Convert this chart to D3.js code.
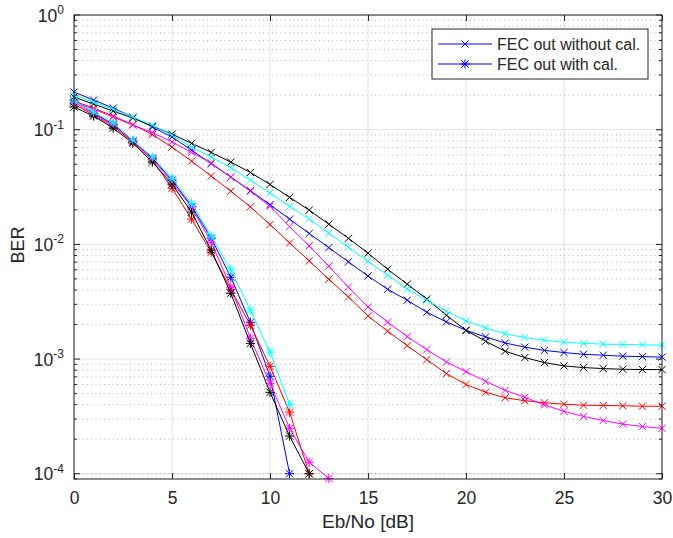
<!DOCTYPE html>
<html>
<head>
<meta charset="utf-8">
<script src="https://cdn.jsdelivr.net/npm/d3@7"></script>
<style>
  body { margin: 0; background: #fff; }
  text { font-family: "Liberation Sans", Arial, Helvetica, sans-serif; fill: #262626; }
</style>
</head>
<body>
<svg id="chart" width="673" height="538"></svg>
<script>
// Eb/No grid (dB)
const ebno = [0,1,2,3,4,5,6,7,8,9,10,11,12,13,14,15,16,17,18,19,20,21,22,23,24,25,26,27,28,29,30];

// BER without calibration ('x' markers)
const blueNoCal    = [0.2128,0.1813,0.1544,0.1288,0.1054,0.0862,0.0664,0.0506,0.0386,0.0294,0.0222,0.0166,0.01245,0.00936,0.00704,0.00530,0.00406,0.00326,0.00256,0.00211,0.00178,0.00156,0.00138,0.00127,0.00119,0.00114,0.00110,0.00108,0.00106,0.00105,0.00104];
const redNoCal     = [0.1777,0.1543,0.1314,0.1108,0.0906,0.0705,0.0532,0.0394,0.0291,0.02125,0.0149,0.0103,0.00718,0.00497,0.00348,0.00238,0.00175,0.00131,0.000988,0.000747,0.000600,0.000514,0.000460,0.000433,0.000416,0.000404,0.000396,0.000394,0.000391,0.000388,0.000388];
const magentaNoCal = [0.1741,0.1513,0.1288,0.1097,0.0943,0.0784,0.0634,0.0511,0.0386,0.0291,0.0215,0.01428,0.00972,0.00645,0.00424,0.00285,0.00210,0.00157,0.00121,0.000943,0.000778,0.000640,0.000534,0.000464,0.000398,0.000350,0.000316,0.000291,0.000271,0.000258,0.000249];
const blackNoCal   = [0.1925,0.1673,0.1453,0.1263,0.1075,0.0915,0.0760,0.0634,0.0522,0.0424,0.0333,0.0257,0.0199,0.0150,0.0113,0.00838,0.00608,0.00450,0.00334,0.00241,0.00178,0.00143,0.00117,0.00103,0.000932,0.000871,0.000843,0.000826,0.000815,0.000810,0.000810];
const cyanNoCal    = [0.2003,0.1741,0.1513,0.1288,0.1097,0.0897,0.0705,0.0577,0.0467,0.0363,0.0280,0.0215,0.0166,0.01252,0.00945,0.00713,0.00539,0.00409,0.00325,0.00261,0.00215,0.00187,0.00166,0.00154,0.00146,0.00140,0.00137,0.00135,0.00134,0.00133,0.00132];

// BER with calibration ('*' markers); curves end where no errors were counted
const blueCal    = [0.1813,0.1396,0.1119,0.0795,0.0565,0.0363,0.0215,0.01133,0.00517,0.00209,0.000708,0.0001];
const redCal     = [0.1673,0.1341,0.1075,0.0779,0.0543,0.0309,0.0166,0.00855,0.00406,0.00197,0.000865,0.000345,0.0001];
const magentaCal = [0.1741,0.1368,0.1097,0.0795,0.0554,0.0349,0.0211,0.01045,0.00423,0.00152,0.000615,0.000249,0.000126,0.000091];
const blackCal   = [0.1575,0.1314,0.1032,0.0764,0.0522,0.0335,0.0191,0.00890,0.00375,0.00137,0.000513,0.000213,0.0001];
const cyanCal    = [0.1777,0.1424,0.1142,0.0811,0.0577,0.0376,0.0227,0.01179,0.00601,0.00267,0.00115,0.000403];

const xTicks = [0,5,10,15,20,25,30];
const yDecades = [0,-1,-2,-3,-4];
const legendLabels = ["FEC out without cal.", "FEC out with cal."];

const series = [
  {values: blueNoCal,    color: "#0000ff", marker: "x"},
  {values: blueCal,      color: "#0000ff", marker: "*"},
  {values: redNoCal,     color: "#ff0000", marker: "x"},
  {values: redCal,       color: "#ff0000", marker: "*"},
  {values: magentaNoCal, color: "#ff00ff", marker: "x"},
  {values: magentaCal,   color: "#ff00ff", marker: "*"},
  {values: blackNoCal,   color: "#000000", marker: "x"},
  {values: blackCal,     color: "#000000", marker: "*"},
  {values: cyanNoCal,    color: "#00ffff", marker: "x"},
  {values: cyanCal,      color: "#00ffff", marker: "*"}
];

const plotL = 74, plotR = 662, plotT = 15, plotB = 479;
const svg = d3.select("#chart");
svg.append("rect").attr("width", 673).attr("height", 538).attr("fill", "#fff");

const x = d3.scaleLinear().domain([0, 30]).range([plotL, plotR]);
const y = d3.scaleLog().domain([9e-5, 1]).range([plotB, plotT]);

// minor decade subdivisions within the visible range
const minorVals = [];
for (let e = -5; e < 0; e++) {
  for (let k = 2; k <= 9; k++) {
    const v = k * Math.pow(10, e);
    if (v >= 9e-5 && v < 1) minorVals.push(v);
  }
}

const grid = svg.append("g");
// minor grid (dotted)
grid.selectAll("line.minor").data(minorVals.concat([1e-4])).join("line")
  .attr("x1", plotL).attr("x2", plotR)
  .attr("y1", d => y(d)).attr("y2", d => y(d))
  .attr("stroke", "#b5b5b5").attr("stroke-width", 1)
  .attr("stroke-dasharray", "1,3.3");
// major grid
grid.selectAll("line.hy").data(yDecades.map(e => Math.pow(10, e))).join("line")
  .attr("x1", plotL).attr("x2", plotR)
  .attr("y1", d => y(d)).attr("y2", d => y(d))
  .attr("stroke", "#262626").attr("stroke-opacity", 0.13).attr("stroke-width", 1);
grid.selectAll("line.vx").data(xTicks).join("line")
  .attr("class", "vx")
  .attr("x1", d => x(d)).attr("x2", d => x(d))
  .attr("y1", plotT).attr("y2", plotB)
  .attr("stroke", "#262626").attr("stroke-opacity", 0.13).attr("stroke-width", 1);

// clip region for the lines
svg.append("clipPath").attr("id", "plotclip").append("rect")
  .attr("x", plotL).attr("y", plotT).attr("width", plotR - plotL).attr("height", plotB - plotT);

const line = d3.line().x((d, i) => x(ebno[i])).y(d => y(d));

function markerPath(kind) {
  const s = 3.6;
  let p = `M${-s},${-s}L${s},${s}M${-s},${s}L${s},${-s}`;
  if (kind === "*") {
    const t = 4.6;
    p += `M0,${-t}L0,${t}M${-t},0L${t},0`;
  }
  return p;
}

const plot = svg.append("g");
series.forEach(s => {
  const g = plot.append("g");
  g.append("path")
    .attr("d", line(s.values))
    .attr("fill", "none")
    .attr("stroke", s.color)
    .attr("stroke-width", 1)
    .attr("clip-path", "url(#plotclip)");
  g.selectAll("path.m").data(s.values).join("path")
    .attr("class", "m")
    .attr("transform", (d, i) => `translate(${x(ebno[i])},${y(d)})`)
    .attr("d", markerPath(s.marker))
    .attr("fill", "none")
    .attr("stroke", s.color)
    .attr("stroke-width", 1);
});

// axes box
const axisColor = "#262626";
svg.append("rect")
  .attr("x", plotL).attr("y", plotT).attr("width", plotR - plotL).attr("height", plotB - plotT)
  .attr("fill", "none").attr("stroke", axisColor).attr("stroke-width", 1);

// x axis ticks (bottom with labels, top without)
const xAxis = d3.axisBottom(x).tickValues(xTicks).tickSize(-6).tickPadding(13).tickFormat(d3.format("d"));
const gx = svg.append("g").attr("transform", `translate(0,${plotB})`).call(xAxis);
gx.select(".domain").remove();
gx.selectAll("line").attr("stroke", axisColor);
gx.selectAll("text").attr("font-size", 17.5).attr("fill", axisColor);

const gxTop = svg.append("g").attr("transform", `translate(0,${plotT})`)
  .call(d3.axisTop(x).tickValues(xTicks).tickSize(-6).tickFormat(""));
gxTop.select(".domain").remove();
gxTop.selectAll("line").attr("stroke", axisColor);

// y axis major and minor ticks on both sides
function yTicks(sideX, dir) {
  const g = svg.append("g");
  const majors = yDecades.map(e => Math.pow(10, e));
  g.selectAll("line.maj").data(majors).join("line")
    .attr("class", "maj")
    .attr("x1", sideX).attr("x2", sideX + dir * 6)
    .attr("y1", d => y(d)).attr("y2", d => y(d))
    .attr("stroke", axisColor);
  g.selectAll("line.min").data(minorVals).join("line")
    .attr("class", "min")
    .attr("x1", sideX).attr("x2", sideX + dir * 3)
    .attr("y1", d => y(d)).attr("y2", d => y(d))
    .attr("stroke", axisColor);
}
yTicks(plotL, 1);
yTicks(plotR, -1);

// y tick labels as powers of ten
const yl = svg.append("g");
yDecades.forEach(e => {
  const t = yl.append("text")
    .attr("x", plotL - 10)
    .attr("y", y(Math.pow(10, e)) + 6.5)
    .attr("text-anchor", "end")
    .attr("font-size", 17.5);
  t.append("tspan").text("10");
  t.append("tspan").attr("dy", -7.5).attr("font-size", 12).text(String(e));
});

// axis titles
svg.append("text")
  .attr("x", (plotL + plotR) / 2).attr("y", 528)
  .attr("text-anchor", "middle").attr("font-size", 19)
  .text("Eb/No [dB]");
svg.append("text")
  .attr("transform", `translate(24,${(plotT + plotB) / 2 - 2}) rotate(-90)`)
  .attr("text-anchor", "middle").attr("font-size", 18)
  .text("BER");

// legend
const lg = svg.append("g");
lg.append("rect").attr("x", 432).attr("y", 29).attr("width", 216).attr("height", 50)
  .attr("fill", "#fff").attr("stroke", axisColor).attr("stroke-width", 1);
const legendItems = [series[0], series[1]];
legendItems.forEach((s, i) => {
  const cy = 44 + i * 20;
  lg.append("line").attr("x1", 438).attr("x2", 492).attr("y1", cy).attr("y2", cy)
    .attr("stroke", s.color).attr("stroke-width", 1);
  lg.append("path").attr("transform", `translate(465,${cy})`).attr("d", markerPath(s.marker))
    .attr("fill", "none").attr("stroke", s.color).attr("stroke-width", 1);
  lg.append("text").attr("x", 497).attr("y", cy + 5.5).attr("font-size", 16).attr("fill", "#000")
    .text(legendLabels[i]);
});
</script>
</body>
</html>
